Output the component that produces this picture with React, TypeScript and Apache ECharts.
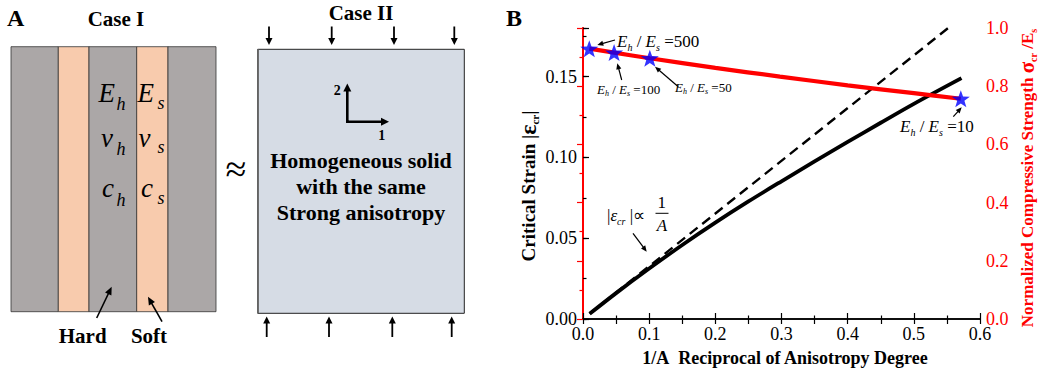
import React, { useEffect, useRef } from "react";
import * as echarts from "echarts";

const FF = "'Liberation Serif', 'Times New Roman', Times, serif";

// ---- Panel B data ----
const solidX = [0.01, 0.05, 0.1, 0.15, 0.2, 0.25, 0.3, 0.35, 0.4, 0.45, 0.5, 0.572];
const solidY = [0.0032, 0.016, 0.0312, 0.0458, 0.0596, 0.0727, 0.0852, 0.0975, 0.1095, 0.1214, 0.1331, 0.149];
const dashX = [0.01, 0.552];
const dashY = [0.0033, 0.18];
const redX = [0.0095, 0.047, 0.101, 0.2, 0.2976, 0.4, 0.5, 0.571];
const redY = [0.929, 0.9155, 0.896, 0.863, 0.833, 0.803, 0.776, 0.757];
const starX = [0.0095, 0.047, 0.101, 0.571];
const starY = [0.929, 0.9155, 0.896, 0.757];
const ratioLabels = ["500", "100", "50", "10"];

const GREY = "#aba7a7";
const PEACH = "#f8cbad";
const BLUEGREY = "#d6dce5";
const STAR =
  "path://M0,-10 L2.351,-3.236 L9.511,-3.090 L3.804,1.236 L5.878,8.090 L0,4.2 L-5.878,8.090 L-3.804,1.236 L-9.511,-3.090 L-2.351,-3.236 Z";

function txt(text: string, x: number, y: number, o: any = {}) {
  const align = o.align || "center";
  return {
    type: "text",
    x,
    y,
    z: 100,
    rotation: o.rot || 0,
    style: {
      text,
      fill: o.fill || "#000",
      fontFamily: FF,
      fontSize: o.size || 18,
      fontWeight: o.bold ? "bold" : "normal",
      fontStyle: o.italic ? "italic" : "normal",
      align,
      verticalAlign: "middle",
      textAlign: align,
      textVerticalAlign: "middle",
      rich: o.rich,
    },
  };
}

function arrow(x1: number, y1: number, x2: number, y2: number, head = 7, w = 3, lw = 1.4, color = "#000") {
  const dx = x2 - x1, dy = y2 - y1;
  const L = Math.hypot(dx, dy);
  const ux = dx / L, uy = dy / L;
  const bx = x2 - ux * head, by = y2 - uy * head;
  return [
    { type: "line", z: 100, shape: { x1, y1, x2: bx + ux, y2: by + uy }, style: { stroke: color, lineWidth: lw } },
    {
      type: "polygon",
      z: 100,
      shape: { points: [[x2, y2], [bx - uy * w, by + ux * w], [bx + uy * w, by - ux * w]] },
      style: { fill: color },
    },
  ];
}

function richStyles(fs: number, color = "#000", bold = false) {
  const sfs = Math.round(fs * 0.6);
  const w = bold ? "bold" : "normal";
  return {
    i: { fontFamily: FF, fontSize: fs, fontStyle: "italic", fontWeight: w, fill: color },
    s: { fontFamily: FF, fontSize: sfs, fontStyle: "italic", fontWeight: w, fill: color, padding: [Math.round(fs * 0.7), 0, 0, 0] },
    u: { fontFamily: FF, fontSize: sfs, fontWeight: w, fill: color, padding: [Math.round(fs * 0.7), 0, 0, 0] },
    n: { fontFamily: FF, fontSize: fs, fontWeight: w, fill: color },
    g: { fontFamily: FF, fontSize: Math.round(fs * 1.25), fontWeight: "bold", fill: color },
  };
}

function ratio(val: string, x: number, y: number, fs: number) {
  return txt(`{i|E}{s|h}{n| / }{i|E}{s|s}{n| =${val}}`, x, y, { align: "left", rich: richStyles(fs) });
}

function buildGraphics() {
  const G: any[] = [];
  // ---------- Panel A ----------
  G.push(txt("A", 7, 17.5, { size: 24, bold: true, align: "left" }));
  G.push(txt("Case I", 116, 19, { size: 21, bold: true }));
  const stripes: [number, number, string][] = [
    [11, 58.3, GREY],
    [58.3, 89, PEACH],
    [89, 136.7, GREY],
    [136.7, 168, PEACH],
    [168, 216, GREY],
  ];
  stripes.forEach(([a, b, c]) =>
    G.push({ type: "rect", z: 10, shape: { x: a, y: 46.7, width: b - a, height: 265 }, style: { fill: c, stroke: "#333", lineWidth: 0.8 } })
  );
  const big = (t: string, x: number, y: number) => G.push(txt(t, x, y, { size: 27, italic: true, align: "left" }));
  const small = (t: string, x: number, y: number) => G.push(txt(t, x, y, { size: 18, italic: true, align: "left" }));
  big("E", 98.5, 93); small("h", 116.5, 104);
  big("E", 137.5, 93); small("s", 157.5, 103);
  big("\u03bd", 101, 138); small("h", 116.5, 148.5);
  big("\u03bd", 138.5, 138); small("s", 157.5, 147);
  big("c", 102, 188); small("h", 116.5, 200);
  big("c", 141, 188); small("s", 157.5, 198);
  G.push(...arrow(96.7, 318, 111.7, 286.7, 8, 3.5, 1.6));
  G.push(...arrow(162, 321.7, 148, 296.7, 8, 3.5, 1.6));
  G.push(txt("Hard", 82.7, 335.5, { size: 21, bold: true }));
  G.push(txt("Soft", 149, 335.5, { size: 21, bold: true }));

  G.push(txt("\u2248", 236, 169, { size: 38 }));

  G.push(txt("Case II", 361, 12.5, { size: 21, bold: true }));
  G.push({ type: "rect", z: 10, shape: { x: 257.7, y: 49.3, width: 206.6, height: 264 }, style: { fill: BLUEGREY, stroke: "#222", lineWidth: 1 } });
  G.push({ type: "line", z: 11, shape: { x1: 258, y1: 49.3, x2: 258, y2: 313.3 }, style: { stroke: "#666", lineWidth: 1.8 } });
  [269, 331.7, 394, 454.3].forEach((x) => G.push(...arrow(x, 26.5, x, 45, 7, 3.5, 1.8)));
  [266.7, 329, 392.3, 451.7].forEach((x) => G.push(...arrow(x, 337, x, 316.5, 7, 3.5, 1.8)));
  G.push(...arrow(347.3, 121.7, 347.3, 83.5, 8, 4, 2.6));
  G.push(...arrow(347.3, 121.7, 389, 121.7, 8, 4, 2.6));
  G.push({ type: "line", z: 100, shape: { x1: 346, y1: 121.7, x2: 348.6, y2: 121.7 }, style: { stroke: "#000", lineWidth: 2.6 } });
  G.push(txt("2", 337.3, 90.5, { size: 14, bold: true }));
  G.push(txt("1", 381.7, 135, { size: 14, bold: true }));
  G.push(txt("Homogeneous solid", 361, 160.5, { size: 22, bold: true }));
  G.push(txt("with the same", 361, 186.5, { size: 22, bold: true }));
  G.push(txt("Strong anisotropy", 361, 212.5, { size: 22, bold: true }));

  // ---------- Panel B annotations ----------
  G.push(txt("B", 506, 17.5, { size: 24, bold: true, align: "left" }));
  G.push(ratio(ratioLabels[0], 617, 41, 17));
  G.push(ratio(ratioLabels[1], 597, 89, 13));
  G.push(ratio(ratioLabels[2], 675, 87, 13));
  G.push(ratio(ratioLabels[3], 900, 126, 17));
  G.push(...arrow(615, 40, 597.3, 45, 6, 2.6, 1.2));
  G.push(...arrow(621.7, 80, 617.3, 63.3, 6, 2.6, 1.2));
  G.push(...arrow(678.3, 86.7, 655, 66.7, 6, 2.6, 1.2));
  G.push(...arrow(953.3, 116.7, 961.7, 107.3, 6, 2.6, 1.2));

  // |eps_cr| ∝ 1/A
  G.push(txt("{n||}{i|\u03b5}{s|cr}{n| |\u221d}", 607, 215, { align: "left", rich: richStyles(17) }));
  G.push(txt("1", 661.7, 202.5, { size: 17 }));
  G.push({ type: "line", z: 100, shape: { x1: 655.5, y1: 213.3, x2: 668.5, y2: 213.3 }, style: { stroke: "#000", lineWidth: 1 } });
  G.push(txt("A", 662, 225.5, { size: 17, italic: true }));
  G.push(...arrow(633, 233.3, 646.7, 251.7, 6, 2.6, 1.2));

  // Axis titles
  G.push(
    txt("{n|Critical Strain |}{g|\u03b5}{u|cr}{n||}", 528, 186, { rot: Math.PI / 2, rich: richStyles(19, "#000", true) })
  );
  G.push(
    txt("{n|Normalized Compressive Strength }{g|\u03c3}{u|cr}{n| /E}{u|s}", 1027, 178, {
      rot: Math.PI / 2,
      rich: richStyles(17, "#ff0000", true),
    })
  );
  G.push(txt("1/A\u00a0\u00a0Reciprocal of Anisotropy Degree", 785, 358, { size: 18, bold: true }));
  return G;
}

const labelStyle = { color: "#000", fontFamily: FF, fontSize: 18 };

export default function App() {
  const ref = useRef<HTMLDivElement>(null);
  useEffect(() => {
    if (!ref.current) return;
    const chart = echarts.init(ref.current, null, { renderer: "svg" });
    const zip = (xs: number[], ys: number[]) => xs.map((x, i) => [x, ys[i]]);
    const blackLine = { color: "#000", width: 1.5 };
    const option: any = {
      animation: false,
      grid: { left: 583, right: 62, top: 28, bottom: 54 },
      xAxis: [
        {
          type: "value",
          position: "bottom",
          min: 0,
          max: 0.6,
          interval: 0.1,
          axisLine: { show: true, lineStyle: blackLine },
          axisTick: { show: true, inside: true, length: 6, lineStyle: { color: "#000", width: 1.2 } },
          minorTick: { show: true, splitNumber: 2, length: 3.5, lineStyle: { color: "#000", width: 1.2 } },
          axisLabel: { ...labelStyle, margin: 6, formatter: (v: number) => v.toFixed(1) },
          splitLine: { show: false },
        },
        {
          type: "value",
          position: "top",
          min: 0,
          max: 0.6,
          interval: 0.1,
          axisLine: { show: true, lineStyle: blackLine },
          axisTick: { show: true, inside: true, length: 5, lineStyle: { color: "#000", width: 1.2 } },
          minorTick: { show: true, splitNumber: 2, length: 5, lineStyle: { color: "#000", width: 1.2 } },
          axisLabel: { show: false },
          splitLine: { show: false },
        },
      ],
      yAxis: [
        {
          type: "value",
          position: "left",
          min: 0,
          max: 0.18,
          interval: 0.05,
          axisLine: { show: true, lineStyle: blackLine },
          axisTick: { show: true, inside: true, length: 6, lineStyle: { color: "#000", width: 1.2 } },
          axisLabel: {
            ...labelStyle,
            margin: 6,
            formatter: (v: number) => (Math.abs(v / 0.05 - Math.round(v / 0.05)) < 1e-6 ? v.toFixed(2) : ""),
          },
          splitLine: { show: false },
        },
        {
          type: "value",
          position: "right",
          min: 0,
          max: 1,
          interval: 0.2,
          axisLine: { show: true, lineStyle: { color: "#ff0000", width: 2 } },
          axisTick: { show: true, inside: true, length: 6, lineStyle: { color: "#ff0000", width: 1.2 } },
          minorTick: { show: true, splitNumber: 2, length: 3.5, lineStyle: { color: "#ff0000", width: 1.2 } },
          axisLabel: { ...labelStyle, color: "#ff0000", margin: 6, formatter: (v: number) => v.toFixed(1) },
          splitLine: { show: false },
        },
        {
          type: "value",
          position: "left",
          min: 0,
          max: 0.18,
          interval: 0.025,
          axisLine: { show: false },
          axisTick: { show: true, inside: true, length: 3.5, lineStyle: { color: "#000", width: 1.2 } },
          axisLabel: { show: false },
          splitLine: { show: false },
        },
      ],
      series: [
        {
          type: "line",
          xAxisIndex: 0,
          yAxisIndex: 0,
          data: zip(solidX, solidY),
          showSymbol: false,
          symbol: "none",
          smooth: 0.3,
          lineStyle: { color: "#000", width: 3.8 },
          z: 2,
        },
        {
          type: "line",
          xAxisIndex: 0,
          yAxisIndex: 0,
          data: zip(dashX, dashY),
          showSymbol: false,
          symbol: "none",
          lineStyle: { color: "#000", width: 2.4, type: [10, 6] },
          z: 2,
        },
        {
          type: "line",
          xAxisIndex: 0,
          yAxisIndex: 1,
          data: zip(redX, redY),
          showSymbol: false,
          symbol: "none",
          smooth: 0.3,
          lineStyle: { color: "#ff0000", width: 4.2 },
          z: 3,
        },
        {
          type: "scatter",
          xAxisIndex: 0,
          yAxisIndex: 1,
          data: zip(starX, starY),
          symbol: STAR,
          symbolSize: [18, 17],
          itemStyle: { color: "#0000ff" },
          z: 4,
        },
      ],
      graphic: { elements: buildGraphics() },
    };
    chart.setOption(option);
    return () => chart.dispose();
  }, []);
  return <div ref={ref} style={{ position: "absolute", left: 0, top: 0, width: 1042, height: 373, background: "#fff" }} />;
}
